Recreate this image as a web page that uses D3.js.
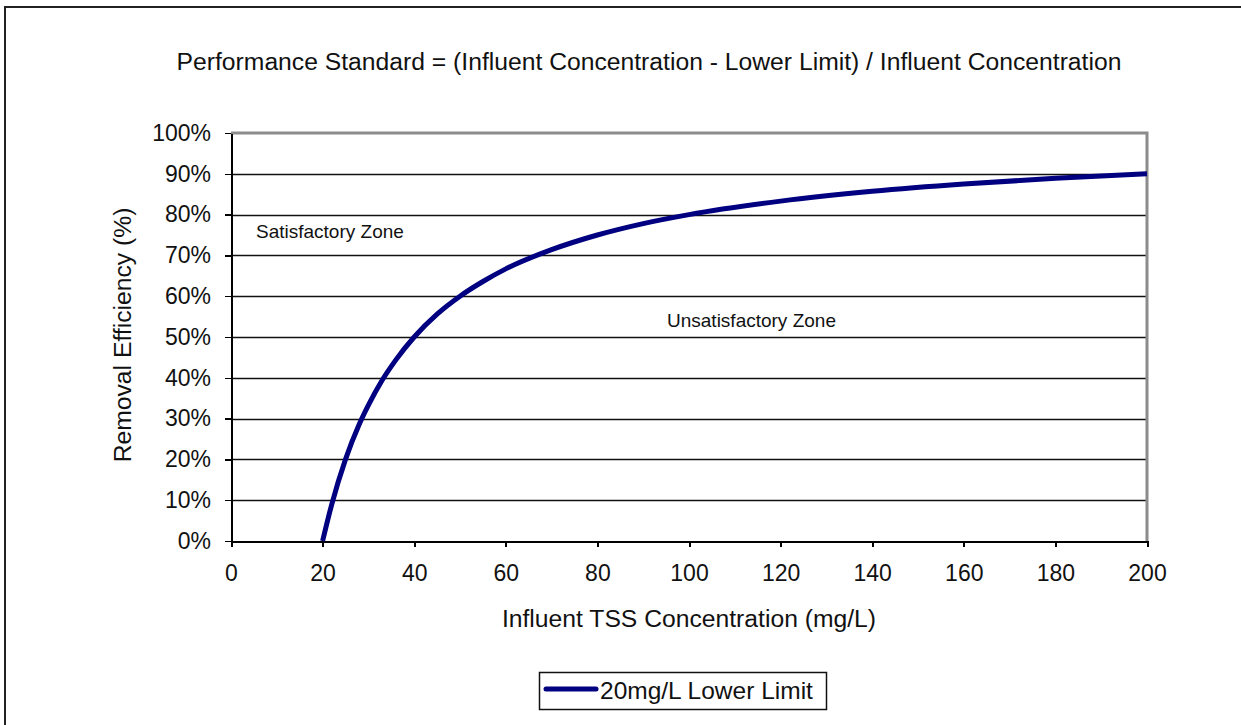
<!DOCTYPE html>
<html lang="en">
<head>
    <meta charset="UTF-8">
    <title>Performance Standard</title>
    <style>
        body{margin:0;background:#fff;}
        svg{display:block;font-family:"Liberation Sans",Arial,sans-serif;}
        .axis path,.axis line{stroke:black;shape-rendering:crispEdges;}
        .axis text{font-size:23px;fill:#111;}
    </style>
    <script src="https://cdn.jsdelivr.net/npm/d3@7"></script>
</head>
<body>
<script>
    // data
    var xTicks = [0, 20, 40, 60, 80, 100, 120, 140, 160, 180, 200];
    var yTicks = [0, 0.1, 0.2, 0.3, 0.4, 0.5, 0.6, 0.7, 0.8, 0.9, 1.0];
    var influent = [20, 22, 25, 28, 30, 33, 36, 40, 45, 50, 55, 60, 70, 80, 90, 100, 120, 140, 160, 180, 200];
    var efficiency = [0, 0.09, 0.2, 0.286, 0.333, 0.394, 0.444, 0.5, 0.556, 0.6, 0.636, 0.667, 0.714, 0.75, 0.778, 0.8, 0.833, 0.857, 0.875, 0.889, 0.9];
    var seriesName = "20mg/L Lower Limit";

    var width = 1241, height = 725;
    var svg = d3.select("body").append("svg")
        .attr("width", width).attr("height", height);

    // outer frame
    svg.append("rect")
        .attr("x", 5).attr("y", 7)
        .attr("width", width + 10).attr("height", height + 10)
        .attr("fill", "none").attr("stroke", "#222").attr("stroke-width", 2);

    var plot = {left: 231, right: 1147, top: 133, bottom: 541};

    var xScale = d3.scaleLinear().domain([0, 200]).range([plot.left, plot.right]);
    var yScale = d3.scaleLinear().domain([0, 1]).range([plot.bottom, plot.top]);

    // gridlines
    svg.append("g").selectAll("line")
        .data(yTicks.slice(1, -1))
        .enter().append("line")
        .attr("x1", plot.left).attr("x2", plot.right)
        .attr("y1", function(d){return Math.round(yScale(d)) + 0.5;})
        .attr("y2", function(d){return Math.round(yScale(d)) + 0.5;})
        .attr("stroke", "#111").attr("stroke-width", 1.4);

    // plot area border (gray top and right)
    svg.append("path")
        .attr("d", "M" + plot.left + "," + plot.top + "H" + plot.right + "V" + plot.bottom)
        .attr("fill", "none").attr("stroke", "#8c8c8c").attr("stroke-width", 3);

    // axes
    var xAxis = d3.axisBottom(xScale).tickValues(xTicks).tickSize(6).tickPadding(18).tickSizeOuter(0);
    var yAxis = d3.axisLeft(yScale).tickValues(yTicks).tickSize(6).tickPadding(14)
        .tickFormat(d3.format(".0%")).tickSizeOuter(0);

    var gx = svg.append("g").attr("class", "axis")
        .attr("transform", "translate(0," + plot.bottom + ")")
        .call(xAxis);
    gx.select(".domain").attr("stroke-width", 2);
    gx.selectAll(".tick line").attr("stroke-width", 2);

    var gy = svg.append("g").attr("class", "axis")
        .attr("transform", "translate(" + plot.left + ",0)")
        .call(yAxis);
    gy.select(".domain").attr("stroke-width", 2);
    gy.selectAll(".tick line").attr("stroke-width", 1.5);

    // curve
    var points = influent.map(function(x, i){return {x: x, y: efficiency[i]};});
    var line = d3.line()
        .x(function(d){return xScale(d.x);})
        .y(function(d){return yScale(d.y);})
        .curve(d3.curveMonotoneX);

    svg.append("path")
        .attr("d", line(points))
        .attr("fill", "none")
        .attr("stroke", "#000080")
        .attr("stroke-width", 5);

    // titles
    svg.append("text")
        .attr("x", 649).attr("y", 70)
        .attr("text-anchor", "middle")
        .attr("font-size", 24.7).attr("fill", "#111")
        .text("Performance Standard = (Influent Concentration - Lower Limit) / Influent Concentration");

    svg.append("text")
        .attr("x", 689).attr("y", 627)
        .attr("text-anchor", "middle")
        .attr("font-size", 24.7).attr("fill", "#111")
        .text("Influent TSS Concentration (mg/L)");

    svg.append("text")
        .attr("transform", "translate(131,335) rotate(-90)")
        .attr("text-anchor", "middle")
        .attr("font-size", 24.7).attr("fill", "#111")
        .text("Removal Efficiency (%)");

    // zone labels
    svg.append("text")
        .attr("x", 256).attr("y", 238)
        .attr("font-size", 19).attr("fill", "#111")
        .text("Satisfactory Zone");

    svg.append("text")
        .attr("x", 667).attr("y", 327)
        .attr("font-size", 19).attr("fill", "#111")
        .text("Unsatisfactory Zone");

    // legend
    var legend = svg.append("g");
    legend.append("rect")
        .attr("x", 539.5).attr("y", 672.5)
        .attr("width", 287).attr("height", 37)
        .attr("fill", "#fff").attr("stroke", "#111").attr("stroke-width", 1.5);
    legend.append("line")
        .attr("x1", 546).attr("x2", 596)
        .attr("y1", 689).attr("y2", 689)
        .attr("stroke", "#000080").attr("stroke-width", 5)
        .attr("stroke-linecap", "round");
    legend.append("text")
        .attr("x", 600).attr("y", 699)
        .attr("font-size", 24.5).attr("fill", "#111")
        .text(seriesName);
</script>
</body>
</html>
